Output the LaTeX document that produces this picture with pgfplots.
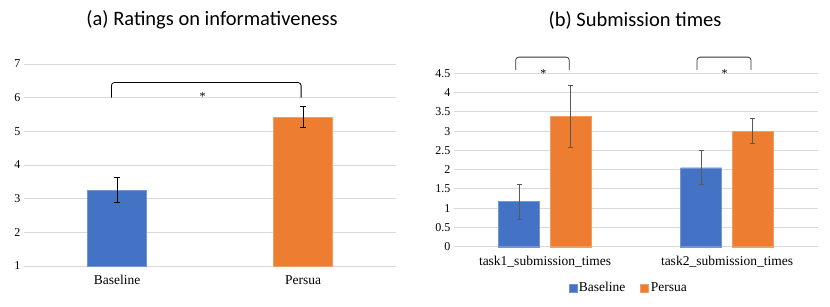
\documentclass[border=0pt]{standalone}
\usepackage{pgfplots}
\pgfplotsset{compat=1.18}
\usepackage{fontspec}
\setmainfont{Liberation Serif}
\newfontfamily\calibri{Carlito}
\newfontfamily\timesf{Liberation Serif}
\definecolor{cblue}{HTML}{4472C4}
\definecolor{corange}{HTML}{ED7D31}
\definecolor{gridc}{HTML}{D9D9D9}
\pgfplotsset{
  mybase/.style={
    scale only axis, anchor=south west,
    axis line style={draw=none}, major tick length=0pt,
    ymajorgrids, grid style={gridc, line width=0.9pt},
    /pgf/number format/assume math mode=true,
    yticklabel={\timesf\pgfmathprintnumber{\tick}},
    yticklabel style={font=\timesf\fontsize{12}{14}\selectfont},
    xticklabel style={font=\timesf\fontsize{13.5}{16}\selectfont, yshift=-6pt},
    xmin=-0.5, xmax=1.5, xtick={0,1},
  },
  errb/.style={error bars/.cd, y dir=both, y explicit,
    error bar style={#1, line width=0.8pt},
    error mark options={rotate=90, #1, mark size=2.6pt, line width=0.8pt}},
}
\begin{document}
\begin{tikzpicture}[x=1pt,y=1pt]
\useasboundingbox (0,0) rectangle (830,306);
\node[font=\calibri\fontsize{20.5}{24}\selectfont] at (212,286) {(a) Ratings on informativeness};
\node[font=\calibri\fontsize{20.5}{24}\selectfont] at (635,286) {(b) Submission times};

\begin{axis}[mybase, at={(24pt,40pt)}, width=372pt, height=202pt,
  ymin=1, ymax=7, ytick={1,2,3,4,5,6,7},
  xticklabels={Baseline,Persua}, bar width=59pt]
\addplot[ybar, bar shift=0pt, fill=cblue, draw=cblue!75!white, errb=black]
  coordinates {(0,3.26) +- (0,0.38)};
\addplot[ybar, bar shift=0pt, fill=corange, draw=corange!75!white, errb=black]
  coordinates {(1,5.43) +- (0,0.31)};
\draw[rounded corners=3pt, line width=0.8pt] (axis cs:-0.03,6.0) -- (axis cs:-0.03,6.45) -- (axis cs:0.99,6.45) -- (axis cs:0.99,6.0);
\node[font=\timesf\fontsize{12}{14}\selectfont] at (axis cs:0.46,6.02) {*};
\end{axis}

\begin{axis}[mybase, at={(454pt,59.3pt)}, width=364pt, height=173.4pt,
  ymin=0, ymax=4.5, ytick={0,0.5,1,1.5,2,2.5,3,3.5,4,4.5}, clip=false,
  xticklabels={task1\_submission\_times,task2\_submission\_times}, bar width=41pt,
  legend style={at={(rel axis cs:0.48,-0.238)}, anchor=center, draw=none,
    font=\timesf\fontsize{13.5}{16}\selectfont, legend columns=2,
    /tikz/every even column/.append style={column sep=13pt}},
  legend image code/.code={\fill[#1] (0pt,-4pt) rectangle (8pt,4pt);}]
\addplot[ybar, bar shift=0pt, fill=cblue, draw=cblue!75!white, errb=black!65]
  coordinates {(-0.1418,1.17) +- (0,0.45) (0.8582,2.05) +- (0,0.445)};
\addplot[ybar, bar shift=0pt, fill=corange, draw=corange!75!white, errb=black!65]
  coordinates {(0.1418,3.39) +- (0,0.8) (1.1418,3.00) +- (0,0.32)};
\legend{Baseline,Persua}
\draw[rounded corners=3pt, line width=0.8pt, black!80] (axis cs:-0.161,4.59) -- (axis cs:-0.161,4.92) -- (axis cs:0.133,4.92) -- (axis cs:0.133,4.59);
\draw[rounded corners=3pt, line width=0.8pt, black!80] (axis cs:0.835,4.59) -- (axis cs:0.835,4.92) -- (axis cs:1.132,4.92) -- (axis cs:1.132,4.59);
\node[font=\timesf\fontsize{12}{14}\selectfont] at (axis cs:-0.009,4.5) {*};
\node[font=\timesf\fontsize{12}{14}\selectfont] at (axis cs:0.987,4.5) {*};
\end{axis}
\end{tikzpicture}
\end{document}
